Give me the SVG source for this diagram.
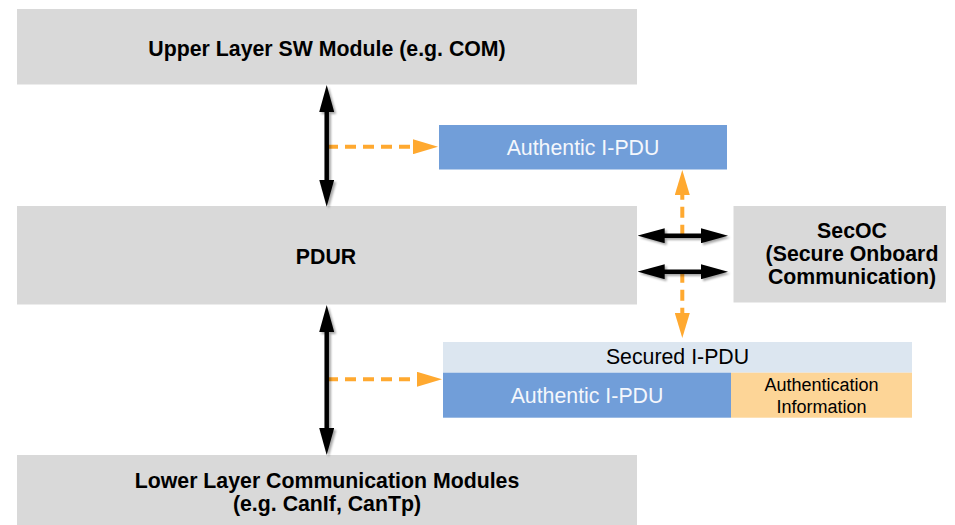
<svg xmlns="http://www.w3.org/2000/svg" width="955" height="525" viewBox="0 0 955 525">
<defs>
<style>
.box{fill:#d9d9d9}
.lbl{font-family:"Liberation Sans",Arial,sans-serif;font-weight:bold;font-size:21.3px;fill:#000;text-anchor:middle}
.pdu{font-family:"Liberation Sans",Arial,sans-serif;font-size:21.3px;text-anchor:middle}
.small{font-size:18px}
.blk{stroke:#000;stroke-width:4.5;fill:none;marker-start:url(#bh);marker-end:url(#bh)}
.org{stroke:#ffa930;stroke-width:4;fill:none;stroke-dasharray:11 7;marker-end:url(#oh)}
</style>
<filter id="sh" filterUnits="userSpaceOnUse" x="0" y="0" width="955" height="525">
<feDropShadow dx="2" dy="2" stdDeviation="1.2" flood-color="#000" flood-opacity="0.35"/>
</filter>
<marker id="bh" markerUnits="userSpaceOnUse" markerWidth="27" markerHeight="15" refX="17" refY="7.5" orient="auto-start-reverse" viewBox="0 0 27 15">
<path d="M0,0 L27,7.5 L0,15 Z" fill="#000"/>
</marker>
<marker id="oh" markerUnits="userSpaceOnUse" markerWidth="25" markerHeight="15" refX="15" refY="7.5" orient="auto" viewBox="0 0 25 15">
<path d="M0,0 L25,7.5 L0,15 Z" fill="#ffa930"/>
</marker>
</defs>
<rect width="955" height="525" fill="#ffffff"/>

<g id="upper">
<rect class="box" x="17" y="9" width="620" height="75.5"/>
<text class="lbl" x="327" y="55.5">Upper Layer SW Module (e.g. COM)</text>
</g>
<g id="pdur">
<rect class="box" x="17" y="206" width="620" height="98.5"/>
<text class="lbl" x="326" y="263.5">PDUR</text>
</g>
<g id="secoc">
<rect class="box" x="733.5" y="206" width="212.5" height="96.5"/>
<text class="lbl" x="852" y="237.5">SecOC</text>
<text class="lbl" x="852" y="260.5">(Secure Onboard</text>
<text class="lbl" x="852" y="283.5">Communication)</text>
</g>
<g id="lower">
<rect class="box" x="17" y="455" width="620" height="70"/>
<text class="lbl" x="327" y="488">Lower Layer Communication Modules</text>
<text class="lbl" x="327" y="511">(e.g. CanIf, CanTp)</text>
</g>
<g id="authentic-top">
<rect x="439" y="125" width="288" height="44.5" fill="#719ed9"/>
<text class="pdu" x="583" y="155" fill="#f4f7fc">Authentic I-PDU</text>
</g>
<g id="secured">
<rect x="443" y="342" width="469" height="30.7" fill="#dce6f0"/>
<text class="pdu" x="677.5" y="364" fill="#000">Secured I-PDU</text>
<rect x="443" y="372.7" width="288" height="45" fill="#719ed9"/>
<text class="pdu" x="587" y="402.5" fill="#f4f7fc">Authentic I-PDU</text>
<rect x="731" y="372.7" width="181" height="45" fill="#fdd597"/>
<text class="pdu small" x="821.5" y="391" fill="#000">Authentication</text>
<text class="pdu small" x="821.5" y="413.3" fill="#000">Information</text>
</g>

<g id="connectors">
<line class="org" x1="327" y1="146.7" x2="428" y2="146.7"/>
<line class="org" x1="327" y1="379.3" x2="432" y2="379.3"/>
<line class="org" x1="682.3" y1="235.7" x2="682.3" y2="180"/>
<line class="org" x1="682.3" y1="271.7" x2="682.3" y2="328"/>
<g filter="url(#sh)">
<line class="blk" x1="326.7" y1="95" x2="326.7" y2="196.7"/>
<line class="blk" x1="326.7" y1="315" x2="326.7" y2="445"/>
<line class="blk" x1="647.7" y1="235.7" x2="718" y2="235.7"/>
<line class="blk" x1="647.7" y1="271.7" x2="718" y2="271.7"/>
</g>
</g>
</svg>
